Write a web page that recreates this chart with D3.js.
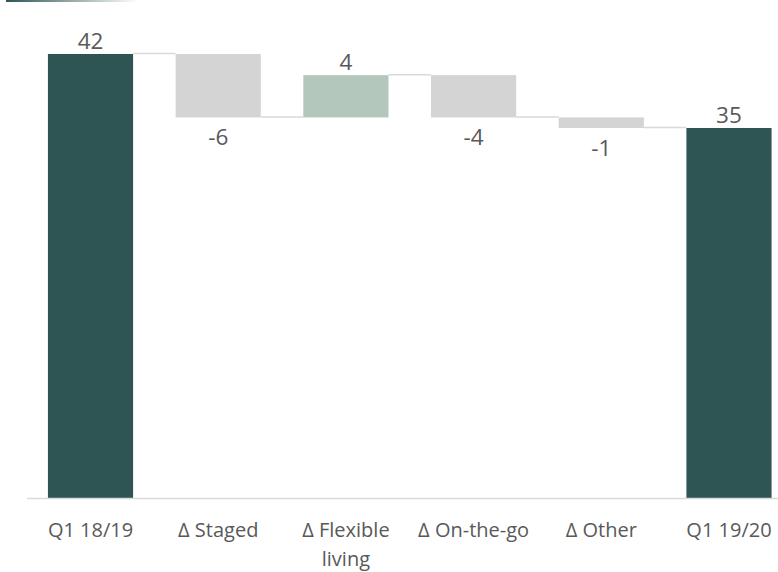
<!DOCTYPE html>
<html>
<head>
<meta charset="utf-8">
<script src="https://cdn.jsdelivr.net/npm/d3@7"></script>
<style>
  body { margin: 0; background: #fff; }
  svg { display: block; font-family: "Open Sans", sans-serif; }
</style>
</head>
<body>
<div id="chart"></div>
<script>
// data
var categories = ["Q1 18/19", "Δ Staged", "Δ Flexible living", "Δ On-the-go", "Δ Other", "Q1 19/20"]
var values = [42, -6, 4, -4, -1, 35]
var isTotal = [true, false, false, false, false, true]

var width = 778, height = 572

var svg = d3.select("#chart").append("svg")
    .attr("width", width)
    .attr("height", height)

// little header strip cropped at the top
var grad = svg.append("defs").append("linearGradient").attr("id", "hdr")
grad.append("stop").attr("offset", "0%").attr("stop-color", "#2e5553")
grad.append("stop").attr("offset", "100%").attr("stop-color", "#ffffff")
svg.append("rect").attr("x", 6).attr("y", 0).attr("width", 132).attr("height", 2).attr("fill", "url(#hdr)")

/* waterfall steps */
var run = 0
var steps = categories.map((c, i) => {
    let start, end
    if (isTotal[i]) { start = 0; end = values[i]; run = values[i] }
    else { start = run; end = run + values[i]; run = end }
    return { name: c, value: values[i], start: start, end: end, total: isTotal[i] }
})

var xScale = d3.scaleBand()
    .domain(categories)
    .range([26.6, 792.9])
    .paddingInner(0.333)
    .paddingOuter(0.167)

var yScale = d3.scaleLinear()
    .domain([0, 42])
    .range([498, 54])

var colorOf = d => d.total ? "#2e5553" : (d.value > 0 ? "#b3c7bd" : "#d4d4d4")

// connectors
var g = svg.append("g")
g.selectAll(".conn")
    .data(steps.slice(0, -1)).enter()
    .append("line")
    .attr("class", "conn")
    .attr("x1", d => xScale(d.name) + xScale.bandwidth())
    .attr("x2", (d, i) => xScale(categories[i + 1]))
    .attr("y1", d => yScale(d.end) - 0.5)
    .attr("y2", d => yScale(d.end) - 0.5)
    .style("stroke", "#d9d9d9")
    .style("stroke-width", 1.5)

g.selectAll(".bar")
    .data(steps).enter()
    .append("rect")
    .attr("class", "bar")
    .attr("x", d => xScale(d.name))
    .attr("width", xScale.bandwidth())
    .attr("y", d => yScale(Math.max(d.start, d.end)))
    .attr("height", d => Math.abs(yScale(d.start) - yScale(d.end)))
    .style("fill", colorOf)

// value labels
g.selectAll(".val")
    .data(steps).enter()
    .append("text")
    .attr("class", "val")
    .attr("x", d => xScale(d.name) + xScale.bandwidth() / 2)
    .attr("y", d => d.value >= 0 ? yScale(Math.max(d.start, d.end)) - 5 : yScale(Math.min(d.start, d.end)) + 28)
    .attr("text-anchor", "middle")
    .style("font-size", "22.5px")
    .style("fill", "#595959")
    .text(d => d.value)

/* Axis */
var xAxis = d3.axisBottom(xScale).tickSize(0).tickSizeOuter(0).tickPadding(25)
var ax = svg.append("g")
    .attr("transform", "translate(0, 498)")
    .call(xAxis)
ax.select(".domain").style("stroke", "#d9d9d9").style("stroke-width", 1.5)
ax.selectAll("text")
    .style("font-size", "20px")
    .style("font-family", "'Open Sans', sans-serif")
    .style("fill", "#595959")
    .each(function(d) {
        let t = d3.select(this)
        let words = d.split(" ")
        if (t.node().getComputedTextLength() > xScale.step() * 0.9 && words.length > 2) {
            let first = words.slice(0, 2).join(" "), rest = words.slice(2).join(" ")
            let dy = t.attr("dy")
            t.text(null)
            t.append("tspan").attr("x", 0).attr("dy", dy).text(first)
            t.append("tspan").attr("x", 0).attr("dy", "1.45em").text(rest)
        }
    })
</script>
</body>
</html>
